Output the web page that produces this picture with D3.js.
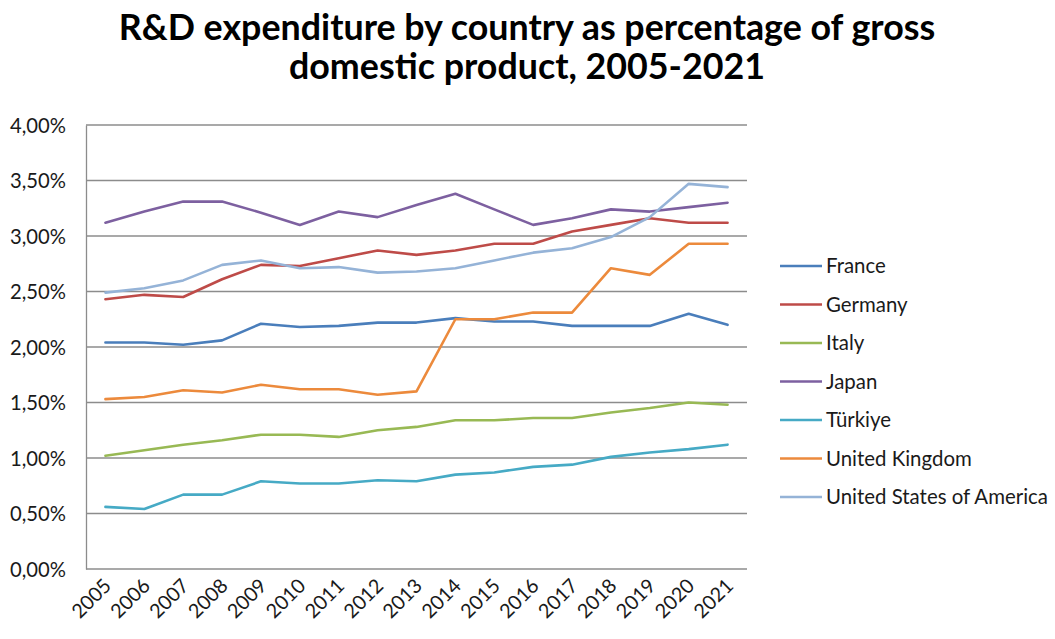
<!DOCTYPE html>
<html>
<head>
<meta charset="utf-8">
<script src="https://cdn.jsdelivr.net/npm/d3@7"></script>
<style>
  html, body { margin: 0; padding: 0; background: #fff; }
  svg { display: block; }
  text { font-family: Lato, "Open Sans", sans-serif; }
</style>
</head>
<body>
<svg id="chart" width="1055" height="639"></svg>
<script>
// Years on the category axis
const years = ["2005","2006","2007","2008","2009","2010","2011","2012","2013","2014","2015","2016","2017","2018","2019","2020","2021"];

// R&D expenditure as % of GDP
const france  = [2.04, 2.04, 2.02, 2.06, 2.21, 2.18, 2.19, 2.22, 2.22, 2.26, 2.23, 2.23, 2.19, 2.19, 2.19, 2.30, 2.20];
const germany = [2.43, 2.47, 2.45, 2.61, 2.74, 2.73, 2.80, 2.87, 2.83, 2.87, 2.93, 2.93, 3.04, 3.10, 3.16, 3.12, 3.12];
const italy   = [1.02, 1.07, 1.12, 1.16, 1.21, 1.21, 1.19, 1.25, 1.28, 1.34, 1.34, 1.36, 1.36, 1.41, 1.45, 1.50, 1.48];
const japan   = [3.12, 3.22, 3.31, 3.31, 3.21, 3.10, 3.22, 3.17, 3.28, 3.38, 3.24, 3.10, 3.16, 3.24, 3.22, 3.26, 3.30];
const turkiye = [0.56, 0.54, 0.67, 0.67, 0.79, 0.77, 0.77, 0.80, 0.79, 0.85, 0.87, 0.92, 0.94, 1.01, 1.05, 1.08, 1.12];
const uk      = [1.53, 1.55, 1.61, 1.59, 1.66, 1.62, 1.62, 1.57, 1.60, 2.25, 2.25, 2.31, 2.31, 2.71, 2.65, 2.93, 2.93];
const usa     = [2.49, 2.53, 2.60, 2.74, 2.78, 2.71, 2.72, 2.67, 2.68, 2.71, 2.78, 2.85, 2.89, 2.99, 3.17, 3.47, 3.44];

const seriesNames = ["France", "Germany", "Italy", "Japan", "Türkiye", "United Kingdom", "United States of America"];
const seriesValues = [france, germany, italy, japan, turkiye, uk, usa];
const seriesColors = ["#4a7ebb", "#be4b48", "#98b954", "#7d60a0", "#46aac5", "#ec8a3c", "#95b3d7"];

// Y-axis ticks (0% to 4% in steps of 0.5%)
const yTicks = [0, 0.5, 1, 1.5, 2, 2.5, 3, 3.5, 4];

const svg = d3.select("#chart");
const plot = { left: 86, right: 747, top: 125, bottom: 569 };

const x = d3.scaleBand().domain(years).range([plot.left, plot.right]);
const y = d3.scaleLinear().domain([0, 4]).range([plot.bottom, plot.top]);

// Pick a font size for a selection so that one reference node spans `width` px
function fitFont(sel, refNode, width, base) {
  sel.attr("font-size", base);
  const w = refNode.getComputedTextLength();
  sel.attr("font-size", base * width / w);
}

// Title, two centred lines
const title = svg.append("text")
  .attr("text-anchor", "middle")
  .attr("font-weight", "bold")
  .attr("fill", "#000");
const titleLines = ["R&D expenditure by country as percentage of gross", "domestic product, 2005-2021"];
titleLines.forEach((t, i) => {
  title.append("tspan").attr("x", 527).attr("y", i === 0 ? 40 : 79).text(t);
});
fitFont(title, title.select("tspan").node(), 817, 28);

// Horizontal gridlines
svg.append("g")
  .selectAll("line")
  .data(yTicks)
  .join("line")
  .attr("x1", plot.left).attr("x2", plot.right)
  .attr("y1", d => y(d)).attr("y2", d => y(d))
  .attr("stroke", "#8c8c8c")
  .attr("stroke-width", 1.3);

// Y axis
const yAxis = d3.axisLeft(y)
  .tickValues(yTicks)
  .tickSize(0)
  .tickPadding(20)
  .tickFormat(d => d3.format(".2f")(d).replace(".", ",") + "%");
const yg = svg.append("g").attr("transform", `translate(${plot.left},0)`).call(yAxis);
yg.select(".domain").attr("stroke", "#8c8c8c").attr("stroke-width", 1.3);
const yLabels = yg.selectAll("text").attr("fill", "#1a1a1a").attr("dy", "0.36em");
yLabels.style("font-family", null);
fitFont(yLabels, yLabels.nodes()[yLabels.size() - 1], 56, 16);
const tickFont = +yLabels.attr("font-size");

// X axis with rotated labels
const xAxis = d3.axisBottom(x).tickSize(0).tickPadding(0);
const xg = svg.append("g").attr("transform", `translate(0,${plot.bottom})`).call(xAxis);
xg.select(".domain").remove();
xg.selectAll("text")
  .attr("font-size", tickFont * 0.98)
  .attr("fill", "#1a1a1a")
  .attr("text-anchor", "end")
  .attr("dy", null)
  .attr("y", 0)
  .attr("transform", "translate(7,18) rotate(-45)");
svg.selectAll(".tick text").attr("font-family", null);

// Series lines
const line = d3.line()
  .x((d, i) => x(years[i]) + x.bandwidth() / 2)
  .y(d => y(d));

svg.append("g")
  .selectAll("path")
  .data(seriesValues)
  .join("path")
  .attr("d", d => line(d))
  .attr("fill", "none")
  .attr("stroke", (d, i) => seriesColors[i])
  .attr("stroke-width", 2.6)
  .attr("stroke-linejoin", "round")
  .attr("stroke-linecap", "round");

// Legend
const legend = svg.append("g");
const rows = legend.selectAll("g")
  .data(seriesNames)
  .join("g")
  .attr("transform", (d, i) => `translate(780,${266 + i * 38.5})`);
rows.append("line")
  .attr("x1", 0).attr("x2", 42)
  .attr("stroke", (d, i) => seriesColors[i])
  .attr("stroke-width", 2.6);
const legendText = rows.append("text")
  .attr("x", 46)
  .attr("dy", "0.36em")
  .attr("fill", "#1a1a1a")
  .text(d => d);
fitFont(legendText, legendText.nodes()[seriesNames.length - 1], 222, 16);
</script>
</body>
</html>
